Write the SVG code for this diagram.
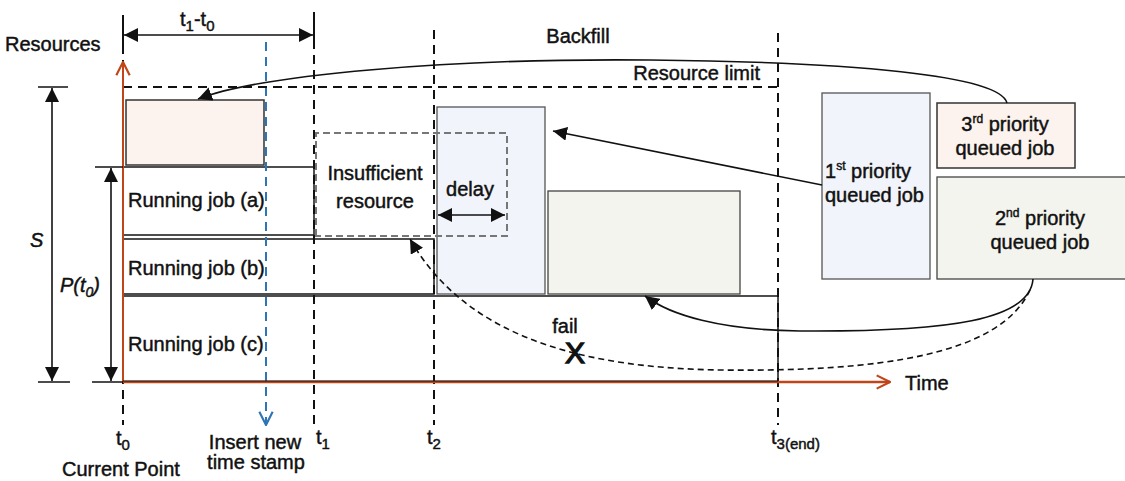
<svg xmlns="http://www.w3.org/2000/svg" width="1125" height="481" viewBox="0 0 1125 481">
  <style>
    text { font-family: "Liberation Sans", Arial, sans-serif; fill: #111; font-size: 20px; stroke: #111; stroke-width: 0.45; }
    .it { font-style: italic; }
    .cross { font-size: 30px; stroke-width: 1.3; }
    .vd { stroke: #111; stroke-width: 2; stroke-dasharray: 9 6; fill: none; }
    .job { fill: #fff; stroke: #222; stroke-width: 1.6; }
    .pink { fill: #fcf3ee; stroke: #333; stroke-width: 1.5; }
    .blue { fill: #f1f4fa; stroke: #555; stroke-width: 1.3; }
    .grey { fill: #f4f4ef; stroke: #444; stroke-width: 1.3; }
    .ln { stroke: #111; stroke-width: 1.6; fill: none; }
  </style>
  <defs>
    <marker id="ahL" viewBox="0 0 10 10" refX="10" refY="5" markerWidth="14" markerHeight="14" markerUnits="userSpaceOnUse" orient="auto-start-reverse">
      <path d="M0,0 L10,5 L0,10 z" fill="#111"/>
    </marker>
    <marker id="redv" viewBox="0 0 12 12" refX="11" refY="6" markerWidth="16" markerHeight="16" markerUnits="userSpaceOnUse" orient="auto">
      <path d="M1,1 L11,6 L1,11" fill="none" stroke="#c0461a" stroke-width="1.6"/>
    </marker>
    <marker id="bluev" viewBox="0 0 12 12" refX="11" refY="6" markerWidth="16" markerHeight="16" markerUnits="userSpaceOnUse" orient="auto">
      <path d="M1,1 L11,6 L1,11" fill="none" stroke="#2e75b6" stroke-width="1.6"/>
    </marker>
  </defs>

  <!-- scheduled jobs -->
  <g id="job-reserved"><rect class="pink" x="126" y="100" width="138" height="65"/></g>
  <g id="job-a">
    <rect class="job" x="123" y="167" width="191" height="68"/>
    <text x="128" y="207">Running job (a)</text>
  </g>
  <g id="job-b">
    <rect class="job" x="123" y="239" width="311" height="55"/>
    <text x="128" y="275">Running job (b)</text>
  </g>
  <g id="job-c">
    <rect class="job" x="123" y="296" width="655" height="86"/>
    <text x="128" y="351">Running job (c)</text>
  </g>
  <g id="job-first-placed"><rect class="blue" x="437" y="107" width="108" height="187"/></g>
  <g id="job-second-placed"><rect class="grey" x="548" y="191" width="192" height="103"/></g>

  <!-- time markers -->
  <g id="time-markers">
    <line x1="123" y1="15" x2="123" y2="45" stroke="#111" stroke-width="2"/>
    <line class="vd" x1="123" y1="45" x2="123" y2="425"/>
    <line x1="314" y1="12" x2="314" y2="40" stroke="#111" stroke-width="2"/>
    <line class="vd" x1="314" y1="40" x2="314" y2="425"/>
    <line class="vd" x1="434" y1="30" x2="434" y2="425"/>
    <line class="vd" x1="778" y1="33" x2="778" y2="425"/>
    <line x1="266" y1="42" x2="266" y2="425" stroke="#2e75b6" stroke-width="2" stroke-dasharray="9 6" marker-end="url(#bluev)"/>
  </g>

  <!-- resource limit -->
  <g id="resource-limit">
    <line class="vd" x1="123" y1="87" x2="778" y2="87"/>
    <text x="760" y="80" text-anchor="end">Resource limit</text>
  </g>

  <g id="insufficient">
    <path d="M316,236 L316,133 L507,133 L507,236 Z" fill="none" stroke="#777" stroke-width="2" stroke-dasharray="7 4"/>
    <text x="375" y="180" text-anchor="middle">Insufficient</text>
    <text x="375" y="208" text-anchor="middle">resource</text>
  </g>
  <g id="delay">
    <text x="470" y="196" text-anchor="middle">delay</text>
    <line class="ln" x1="438" y1="215" x2="505" y2="215" marker-start="url(#ahL)" marker-end="url(#ahL)"/>
  </g>

  <!-- queue -->
  <g id="queue-first">
    <rect class="blue" x="822" y="93" width="108" height="186"/>
    <text x="825" y="178">1<tspan font-size="12" dy="-8">st</tspan><tspan dy="8"> priority</tspan></text>
    <text x="825" y="202">queued job</text>
  </g>
  <g id="queue-third">
    <rect class="pink" x="937" y="103" width="138" height="65" stroke="#888"/>
    <text x="1005" y="131" text-anchor="middle">3<tspan font-size="12" dy="-8">rd</tspan><tspan dy="8"> priority</tspan></text>
    <text x="1005" y="155" text-anchor="middle">queued job</text>
  </g>
  <g id="queue-second">
    <rect class="grey" x="937" y="177" width="195" height="102" stroke="#888"/>
    <text x="1040" y="225" text-anchor="middle">2<tspan font-size="12" dy="-8">nd</tspan><tspan dy="8"> priority</tspan></text>
    <text x="1040" y="249" text-anchor="middle">queued job</text>
  </g>

  <!-- axes -->
  <g id="axes">
    <line x1="123" y1="382" x2="123" y2="62" stroke="#c0461a" stroke-width="2" marker-end="url(#redv)"/>
    <line x1="123" y1="382" x2="890" y2="382" stroke="#c0461a" stroke-width="2.5" marker-end="url(#redv)"/>
    <line x1="123" y1="381" x2="778" y2="381" stroke="#111" stroke-width="1.2"/>
    <text x="5" y="51">Resources</text>
    <text x="905" y="390">Time</text>
  </g>

  <!-- dimensions -->
  <g id="dimensions">
    <line x1="38" y1="87" x2="68" y2="87" stroke="#111" stroke-width="1.5"/>
    <line x1="38" y1="382" x2="70" y2="382" stroke="#111" stroke-width="1.5"/>
    <line class="ln" x1="52" y1="88" x2="52" y2="381" marker-start="url(#ahL)" marker-end="url(#ahL)"/>
    <text class="it" x="30" y="247">S</text>
    <line x1="95" y1="167" x2="123" y2="167" stroke="#111" stroke-width="1.5"/>
    <line x1="92" y1="382" x2="123" y2="382" stroke="#111" stroke-width="1.5"/>
    <line class="ln" x1="111" y1="168" x2="111" y2="381" marker-start="url(#ahL)" marker-end="url(#ahL)"/>
    <text class="it" x="60" y="292">P(t<tspan font-size="14" dy="5">0</tspan><tspan dy="-5">)</tspan></text>
    <line class="ln" x1="124" y1="35" x2="313" y2="35" marker-start="url(#ahL)" marker-end="url(#ahL)"/>
    <text x="180" y="26" font-size="22">t<tspan font-size="15" dy="5">1</tspan><tspan dy="-5">-t</tspan><tspan font-size="15" dy="5">0</tspan></text>
    <text x="578" y="43" text-anchor="middle">Backfill</text>
  </g>

  <!-- connectors -->
  <g id="connectors">
    <path class="ln" d="M1007,103 C1000,75 850,62 650,60 C450,58 260,75 198,99" marker-end="url(#ahL)"/>
    <line class="ln" x1="822" y1="185" x2="553" y2="131" marker-end="url(#ahL)"/>
    <path class="ln" d="M1033,279 C1030,320 950,332 800,331 C720,330 670,315 645,296" marker-end="url(#ahL)"/>
    <path class="ln" d="M1030,290 C1000,355 880,372 720,370 C600,368 470,345 410,239" stroke-dasharray="6 4" marker-end="url(#ahL)"/>
    <text x="565" y="333" text-anchor="middle">fail</text>
    <text class="cross" x="575" y="363" text-anchor="middle">X</text>
  </g>

  <!-- time labels -->
  <g id="time-labels">
    <text x="116" y="445" font-size="22">t<tspan font-size="15" dy="5">0</tspan></text>
    <text x="62" y="476" font-size="18">Current Point</text>
    <text x="255" y="449" font-size="18" text-anchor="middle">Insert new</text>
    <text x="256" y="469" font-size="18" text-anchor="middle">time stamp</text>
    <text x="316" y="444" font-size="22">t<tspan font-size="15" dy="5">1</tspan></text>
    <text x="427" y="444" font-size="22">t<tspan font-size="15" dy="5">2</tspan></text>
    <text x="771" y="444" font-size="22">t<tspan font-size="15" dy="5">3(end)</tspan></text>
  </g>
</svg>
